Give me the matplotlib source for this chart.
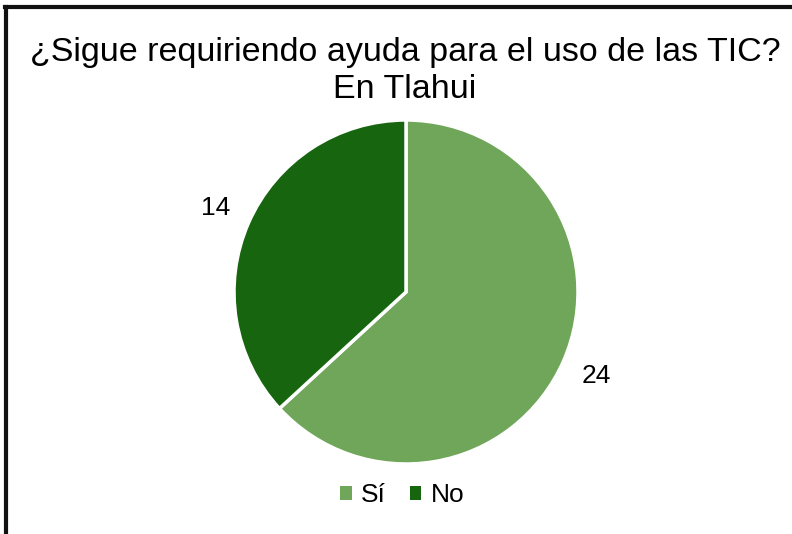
import matplotlib.pyplot as plt
from matplotlib.lines import Line2D
from matplotlib.patches import Patch

plt.rcParams['font.family'] = ['Liberation Sans', 'DejaVu Sans']

categories = ["Sí", "No"]
values = [24, 14]
colors = ["#70A65A", "#17650F"]

fig = plt.figure(figsize=(7.92, 5.34), dpi=100)
ax = fig.add_axes([(406 - 172) / 792, 1 - (292 + 172) / 534, 344 / 792, 344 / 534])

wedges, texts = ax.pie(values, colors=colors, startangle=90, counterclock=False,
                       labels=[str(v) for v in values], labeldistance=1.21,
                       wedgeprops=dict(edgecolor="white", linewidth=2.5),
                       textprops=dict(fontsize=19, color="black"))
for t in texts:
    t.set_ha("center")
    t.set_va("center")
ax.set_xlim(-1, 1)
ax.set_ylim(-1, 1)
ax.set_aspect("equal")

fig.text(405 / 792, 1 - 52 / 534, "¿Sigue requiriendo ayuda para el uso de las TIC?",
         ha="center", va="center", fontsize=24.5)
fig.text(405 / 792, 1 - 90 / 534, "En Tlahui", ha="center", va="center", fontsize=24.5)

handles = [Patch(facecolor=c, edgecolor="none") for c in colors]
fig.legend(handles, categories, loc="center", bbox_to_anchor=(402 / 792, 1 - 495 / 534),
           ncol=2, frameon=False, fontsize=19, handlelength=0.45, handleheight=0.45,
           handletextpad=0.35, columnspacing=0.9)

# frame lines on left and top only
fig.add_artist(Line2D([6 / 792, 6 / 792], [0, 1 - 7 / 534], color="#111111", lw=3,
                      transform=fig.transFigure))
fig.add_artist(Line2D([5 / 792, 790 / 792], [1 - 7 / 534, 1 - 7 / 534], color="#111111", lw=3,
                      transform=fig.transFigure))

fig.savefig("out.png", dpi=100)
